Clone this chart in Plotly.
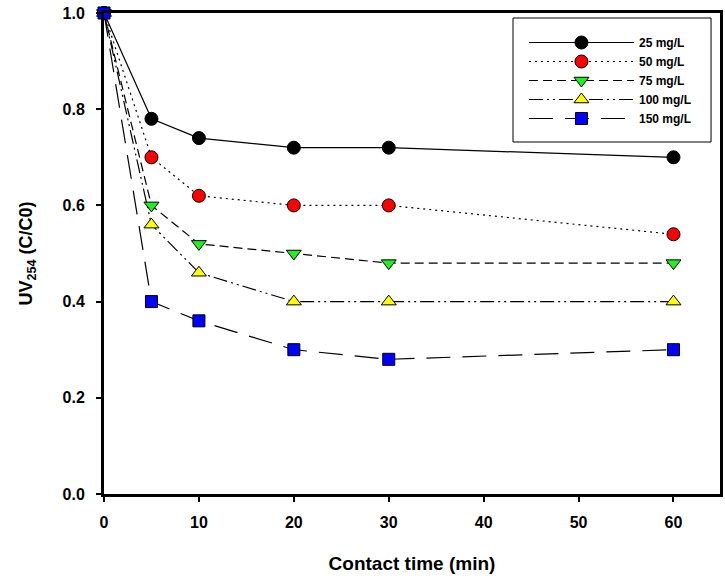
import plotly.graph_objects as go

time_min = [0, 5, 10, 20, 30, 60]
series_names = ["25 mg/L", "50 mg/L", "75 mg/L", "100 mg/L", "150 mg/L"]
c25 = [1.0, 0.78, 0.74, 0.72, 0.72, 0.70]
c50 = [1.0, 0.70, 0.62, 0.60, 0.60, 0.54]
c75 = [1.0, 0.60, 0.52, 0.50, 0.48, 0.48]
c100 = [1.0, 0.56, 0.46, 0.40, 0.40, 0.40]
c150 = [1.0, 0.40, 0.36, 0.30, 0.28, 0.30]
x_ticks = [0, 10, 20, 30, 40, 50, 60]
y_ticks = [0.0, 0.2, 0.4, 0.6, 0.8, 1.0]

values = [c25, c50, c75, c100, c150]
colors = ["black", "red", "#22ee22", "#ffff00", "#0000ff"]
symbols = ["circle", "circle", "triangle-down", "triangle-up", "square"]
sizes = [13, 13, 13, 13, 12]
dashes = ["solid", "2px,4px", "9px,5px", "14px,4px,2px,4px,2px,4px", "24px,12px"]

fig = go.Figure()
for name, vals, col, sym, sz, d in zip(series_names, values, colors, symbols, sizes, dashes):
    fig.add_trace(go.Scatter(
        x=time_min, y=vals, name=name, mode="lines+markers",
        line=dict(color="black", width=1.2, dash=d),
        marker=dict(symbol=sym, size=sz, color=col, line=dict(color="black", width=1)),
        cliponaxis=False,
    ))

font_family = "Liberation Sans, Arial, sans-serif"
# plot area: x 104..723 px, y 13..494 px
fig.add_shape(type="rect", xref="paper", yref="paper",
              x0=(515 - 104) / 619, x1=(714 - 104) / 619,
              y0=(494 - 142) / 481, y1=(494 - 18) / 481,
              line=dict(color="black", width=1), fillcolor="white", layer="below")

fig.update_layout(
    width=725, height=580,
    margin=dict(l=104, r=2, t=13, b=86),
    paper_bgcolor="white", plot_bgcolor="white",
    font=dict(family=font_family, size=14, color="black"),
    showlegend=True,
    legend=dict(
        x=(526 - 104) / 619, y=(494 - 28) / 481, xanchor="left", yanchor="top",
        borderwidth=0, bgcolor="rgba(0,0,0,0)",
        font=dict(family=font_family, size=12, color="black", weight="bold"),
        itemwidth=105, tracegroupgap=0,
    ),
    xaxis=dict(
        range=[0, 64.9], tickvals=x_ticks, ticks="outside", ticklen=5, tickwidth=1.5,
        tickcolor="black", showline=True, linecolor="black", linewidth=3, mirror=True,
        showgrid=False, zeroline=False, ticklabelstandoff=7,
        tickfont=dict(family=font_family, size=16, weight="bold"),
        title=dict(text="<b>Contact time (min)</b>", font=dict(size=19), standoff=27),
    ),
    yaxis=dict(
        range=[0, 1.0], tickvals=y_ticks, tickformat=".1f", ticks="outside", ticklen=5,
        tickwidth=1.5, tickcolor="black", showline=True, linecolor="black", linewidth=3,
        mirror=True, showgrid=False, zeroline=False, ticklabelstandoff=8,
        tickfont=dict(family=font_family, size=16, weight="bold"),
        title=dict(text="<b>UV<sub>254</sub> (C/C0)</b>", font=dict(size=18), standoff=26),
    ),
)

fig.write_html("out.html")
